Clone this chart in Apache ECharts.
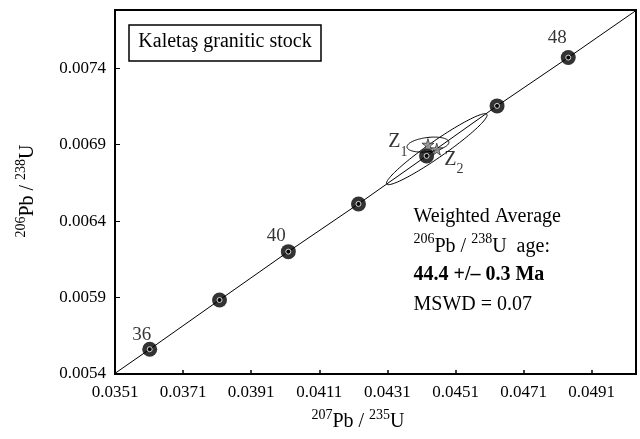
<!DOCTYPE html>
<html>
<head>
<meta charset="utf-8">
<script src="https://cdn.jsdelivr.net/npm/echarts@6/dist/echarts.min.js"></script>
<style>
  html, body { margin: 0; padding: 0; background: #fff; }
  #chart { width: 640px; height: 439px; }
</style>
</head>
<body>
<div id="chart"></div>
<script>
// Concordia curve: ages (Ma) with their 207Pb/235U and 206Pb/238U ratios
const concordiaAges = [34, 36, 38, 40, 42, 44, 46, 48, 50];
const concordiaX = [0.03407, 0.03612, 0.03817, 0.04019, 0.04225, 0.04425, 0.04632, 0.04841, 0.05046];
const concordiaY = [0.005245, 0.005562, 0.005884, 0.006200, 0.006512, 0.006826, 0.007153, 0.007469, 0.007786];

// Age markers drawn on the curve, and which of them carry an age label
const markerAges = [36, 38, 40, 42, 44, 46, 48];
const labelledAges = [36, 40, 48];

// Zircon analyses: ratios, 2-sigma errors and error correlation
const zirconNames = ['Z1', 'Z2'];
const zirconX = [0.04429, 0.04455];
const zirconY = [0.00690, 0.00687];
const zirconSX = [0.000615, 0.001478];
const zirconSY = [0.000049, 0.000232];
const zirconRho = [0.30, 0.96];

// Axis ranges and tick spacing
const xMin = 0.0351, xMax = 0.0504, xStep = 0.002;
const yMin = 0.0054, yMax = 0.00778, yStep = 0.0005;

// Text
const sampleName = 'Kaletaş granitic stock';
const resultLines = ['Weighted Average', '206|Pb / |238|U  age:', '44.4 +/– 0.3 Ma', 'MSWD = 0.07'];

const SERIF = '"Liberation Serif", "Times New Roman", serif';

// Offsets of the age labels from their markers (px)
const ageLabelOffset = { 36: [-8, -14], 40: [-12, -16], 48: [-11, -20] };

const concordiaData = concordiaX.map((x, i) => [x, concordiaY[i]]);
const markerData = markerAges.map(age => {
  const i = concordiaAges.indexOf(age);
  const item = { value: [concordiaX[i], concordiaY[i]], name: String(age) };
  if (labelledAges.includes(age)) {
    item.label = { show: true, position: 'inside', offset: ageLabelOffset[age], formatter: String(age) };
  }
  return item;
});
const ellipseData = zirconX.map((x, i) => [x, zirconY[i], zirconSX[i], zirconSY[i], zirconRho[i]]);

const supRich = {
  n: { fontFamily: SERIF, fontSize: 20, color: '#000', lineHeight: 28 },
  sup: { fontFamily: SERIF, fontSize: 14, color: '#000', lineHeight: 14, verticalAlign: 'top' }
};
const ratioText = (a, b, c, d) => `{sup|${a}}{n|${b}}{sup|${c}}{n|${d}}`;

const STAR = 'path://M50,0 L61,35 L98,35 L68,57 L79,91 L50,70 L21,91 L32,57 L2,35 L39,35 Z';

const zLabelRich = {
  z: { fontFamily: SERIF, fontSize: 20, color: '#000', lineHeight: 27, verticalAlign: 'top' },
  s: { fontFamily: SERIF, fontSize: 14, color: '#000', lineHeight: 14, verticalAlign: 'bottom' }
};
const zLabelPlacement = [
  { position: 'left', distance: 14, offset: [0, 1] },
  { position: 'right', distance: 1, offset: [0, 14] }
];
const starData = zirconNames.map((name, i) => ({
  value: [zirconX[i], zirconY[i]],
  name,
  label: Object.assign({ show: true, formatter: `{z|${name[0]}}{s|${name.slice(1)}}`, rich: zLabelRich }, zLabelPlacement[i])
}));

const chart = echarts.init(document.getElementById('chart'), null, { renderer: 'canvas' });

const rl = resultLines[1].split('|');

chart.setOption({
  animation: false,
  backgroundColor: '#fff',
  grid: {
    left: 115, right: 4, top: 10, bottom: 65,
    containLabel: false, outerBoundsMode: 'none',
    show: true, borderColor: '#000', borderWidth: 2, backgroundColor: 'transparent'
  },
  xAxis: {
    type: 'value', min: xMin, max: xMax, interval: xStep,
    axisLine: { show: true, onZero: false, lineStyle: { color: '#000', width: 2 } },
    axisTick: { show: true, inside: true, length: 4, lineStyle: { color: '#000', width: 1.5 } },
    axisLabel: {
      formatter: v => v.toFixed(4), fontFamily: SERIF, fontSize: 17, color: '#000',
      margin: 10, showMaxLabel: false, showMinLabel: true
    },
    splitLine: { show: false }
  },
  yAxis: {
    type: 'value', min: yMin, max: yMax, interval: yStep,
    axisLine: { show: true, onZero: false, lineStyle: { color: '#000', width: 2 } },
    axisTick: { show: true, inside: true, length: 5, lineStyle: { color: '#000', width: 1 } },
    axisLabel: {
      formatter: v => v.toFixed(4), fontFamily: SERIF, fontSize: 17, color: '#000',
      margin: 9, showMaxLabel: false, showMinLabel: true
    },
    splitLine: { show: false }
  },
  series: [
    {
      type: 'line', data: concordiaData, showSymbol: false, silent: true, z: 1,
      lineStyle: { color: '#000', width: 1 }, clip: true
    },
    {
      type: 'custom', data: ellipseData, z: 2, silent: true, clip: true,
      renderItem(params, api) {
        const cx = api.value(0), cy = api.value(1), sx = api.value(2), sy = api.value(3), rho = api.value(4);
        const k = Math.sqrt(1 - rho * rho);
        const pts = [];
        for (let j = 0; j < 120; j++) {
          const t = j / 120 * Math.PI * 2;
          pts.push(api.coord([cx + sx * Math.cos(t), cy + sy * (rho * Math.cos(t) + k * Math.sin(t))]));
        }
        return { type: 'polygon', shape: { points: pts }, style: { fill: 'none', stroke: '#000', lineWidth: 1 } };
      }
    },
    {
      type: 'scatter', data: markerData, symbol: 'circle', symbolSize: 15, z: 3, silent: true,
      itemStyle: { color: '#000' },
      label: { show: false, fontFamily: SERIF, fontSize: 19, color: '#000' }
    },
    {
      type: 'scatter', data: markerData.map(d => d.value), symbol: 'circle', symbolSize: 5, z: 4, silent: true,
      itemStyle: { color: '#000', borderColor: '#fff', borderWidth: 1 }
    },
    {
      type: 'scatter', data: starData, symbol: STAR, symbolSize: 12, z: 5, silent: true,
      itemStyle: { color: '#8a8a8a', borderColor: '#111', borderWidth: 0.8 }
    }
  ],
  graphic: [
    {
      type: 'rect', z: 10,
      shape: { x: 129, y: 25, width: 192, height: 36 },
      style: { fill: '#fff', stroke: '#000', lineWidth: 1.5 }
    },
    {
      type: 'text', z: 11, x: 225, y: 42,
      style: { text: sampleName, fontFamily: SERIF, fontSize: 20, fill: '#000', align: 'center', verticalAlign: 'middle' }
    },
    {
      type: 'text', z: 11, x: 413.5, y: 216.5,
      style: { text: resultLines[0], fontFamily: SERIF, fontSize: 20, fill: '#000', align: 'left', verticalAlign: 'middle' }
    },
    {
      type: 'text', z: 11, x: 413.5, y: 232.5,
      style: { text: ratioText(rl[0], rl[1], rl[2], rl[3]), rich: supRich, align: 'left', verticalAlign: 'top' }
    },
    {
      type: 'text', z: 11, x: 413.5, y: 275,
      style: { text: resultLines[2], fontFamily: SERIF, fontSize: 20, fontWeight: 'bold', fill: '#000', align: 'left', verticalAlign: 'middle' }
    },
    {
      type: 'text', z: 11, x: 413.5, y: 305,
      style: { text: resultLines[3], fontFamily: SERIF, fontSize: 20, fill: '#000', align: 'left', verticalAlign: 'middle' }
    },
    {
      type: 'text', z: 11, x: 358, y: 408,
      style: { text: ratioText('207', 'Pb / ', '235', 'U'), rich: supRich, align: 'center', verticalAlign: 'top' }
    },
    {
      type: 'text', z: 11, x: 28, y: 191, rotation: Math.PI / 2,
      style: { text: ratioText('206', 'Pb / ', '238', 'U'), rich: supRich, align: 'center', verticalAlign: 'middle' }
    }
  ]
});
</script>
</body>
</html>
